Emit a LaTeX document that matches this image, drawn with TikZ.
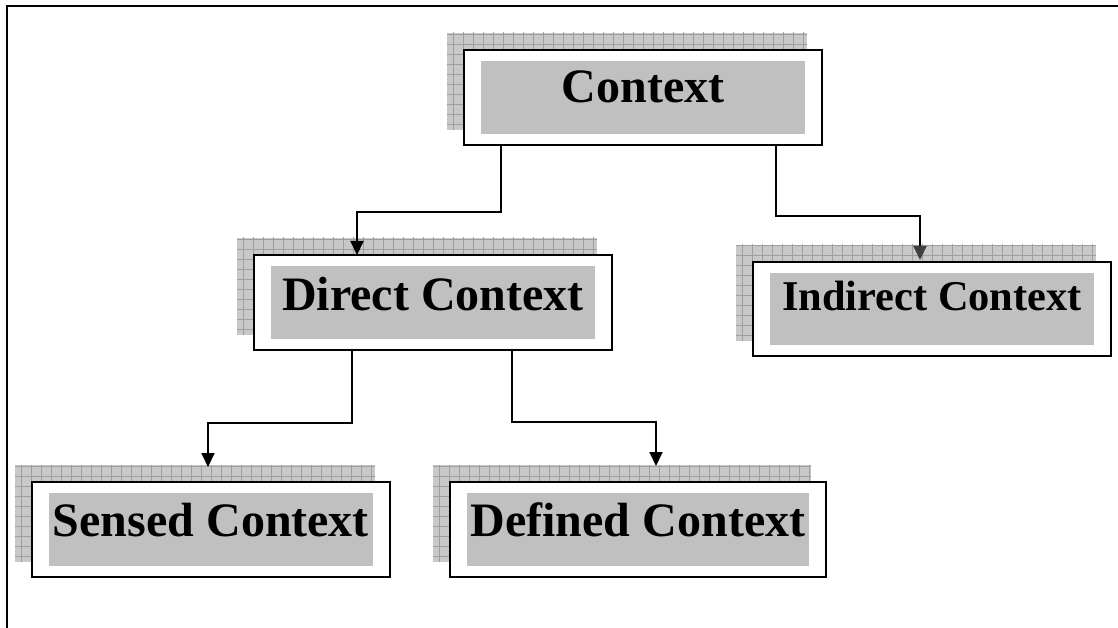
\documentclass[tikz,border=0pt]{standalone}
\usepackage{fontspec}
\setmainfont{Liberation Serif}
\usetikzlibrary{arrows.meta,backgrounds}

\definecolor{shadefill}{RGB}{200,200,200}
\definecolor{shadegrid}{RGB}{158,158,158}
\definecolor{innerfill}{RGB}{192,192,192}
\definecolor{tipgray}{RGB}{64,64,64}

\tikzset{
  x=1pt, y=-1pt,
  ctxbox/.style={
    draw=black, line width=2.4pt, fill=white,
    minimum height=94.6pt, inner sep=0pt,
    path picture={
      \fill[innerfill]
        ([xshift=17pt,yshift=-11pt]path picture bounding box.north west)
        rectangle
        ([xshift=-17pt,yshift=11pt]path picture bounding box.south east);
    }
  },
  ctxlabel/.style={anchor=base, inner sep=0pt,
    font=\bfseries\fontsize{48}{48}\selectfont},
  link/.style={draw=black, line width=2pt,
    -{Triangle[length=14pt,width=13pt]}},
  frameline/.style={line width=2.6pt, draw=black}
}

% hatched drop shadow behind a box, offset up and to the left
\newcommand{\gridshadow}[1]{%
  \begin{scope}[x=1pt,y=1pt]
    \clip ([shift={(-16pt,16pt)}]#1.south west) rectangle ([shift={(-16pt,16pt)}]#1.north east);
    \fill[shadefill] ([shift={(-16pt,16pt)}]#1.south west) rectangle ([shift={(-16pt,16pt)}]#1.north east);
    \path ([shift={(-16pt,16pt)}]#1.south west) coordinate (#1-sw);
    \foreach \k in {0,...,40} {
      \draw[shadegrid, line width=0.8pt]
        ([xshift=\k*10pt+6pt]#1-sw) -- ++(0,130pt);
      \draw[shadegrid, line width=0.8pt]
        ([yshift=\k*10pt+6pt]#1-sw) -- ++(400pt,0);
    }
  \end{scope}}

\begin{document}
\begin{tikzpicture}
\useasboundingbox (0,0) rectangle (1118,628);

% outer frame: top and left edges only
\draw[frameline] (1118,6) -- (7,6) -- (7,628);

% boxes
\node[ctxbox, minimum width=357.6pt] (ctx) at (643,97.5) {};
\node[ctxbox, minimum width=357.6pt] (dir) at (433,302.5) {};
\node[ctxbox, minimum width=357.6pt, minimum height=93.6pt] (ind) at (932,309) {};
\node[ctxbox, minimum width=357.6pt] (sen) at (211,529.5) {};
\node[ctxbox, minimum width=375.6pt] (def) at (638,529.5) {};

\begin{pgfonlayer}{background}
  \gridshadow{ctx}
  \gridshadow{dir}
  \gridshadow{ind}
  \gridshadow{sen}
  \gridshadow{def}
\end{pgfonlayer}

% labels
\node[ctxlabel] (ctx-t) at ([yshift=-5.5pt]ctx.center) {Context};
\node[ctxlabel] (dir-t) at ([yshift=-7.5pt]dir.center) {Direct Context};
\node[ctxlabel, font=\bfseries\fontsize{42.4}{42.4}\selectfont] (ind-t) at ([yshift=-1pt]ind.center) {Indirect Context};
\node[ctxlabel] (sen-t) at ([yshift=-6.5pt]sen.center) {Sensed Context};
\node[ctxlabel] (def-t) at ([yshift=-6.5pt]def.center) {Defined Context};

% connectors
\draw[link] ([xshift=-142pt]ctx.south) |- ([xshift=-76pt,yshift=42pt]dir.north)
  -- ([xshift=-76pt,yshift=-1pt]dir.north);
\draw[link, -{Triangle[length=14pt,width=13pt,color=tipgray]}]
  ([xshift=133pt]ctx.south) |- ([xshift=-12pt,yshift=45pt]ind.north)
  -- ([xshift=-12pt,yshift=1pt]ind.north);
\draw[link] ([xshift=-81pt]dir.south) |- ([xshift=-3pt,yshift=58pt]sen.north)
  -- ([xshift=-3pt,yshift=14pt]sen.north);
\draw[link] ([xshift=79pt]dir.south) |- ([xshift=18pt,yshift=59pt]def.north)
  -- ([xshift=18pt,yshift=15pt]def.north);
\end{tikzpicture}
\end{document}
